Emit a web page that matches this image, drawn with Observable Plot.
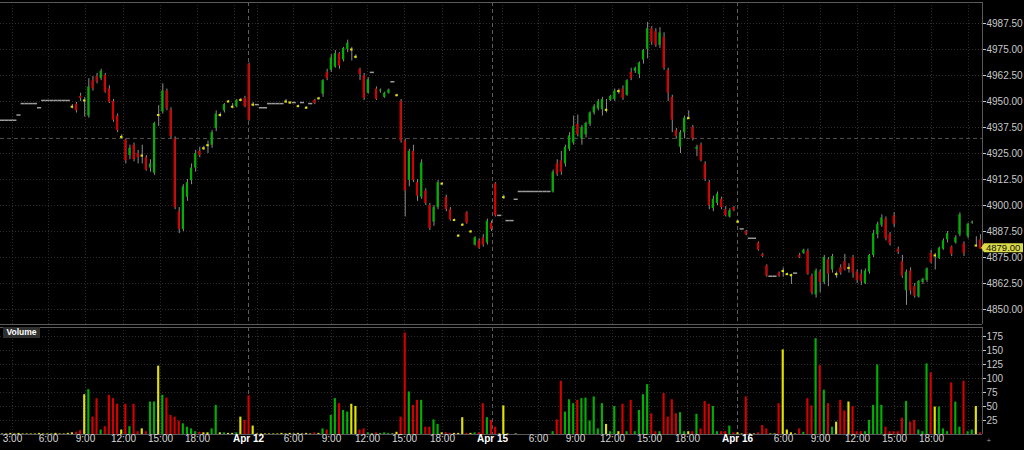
<!DOCTYPE html>
<html><head><meta charset="utf-8">
<script src="https://cdn.jsdelivr.net/npm/d3@7"></script>
<script src="https://cdn.jsdelivr.net/npm/@observablehq/plot@0.6"></script>
<style>
html,body{margin:0;padding:0;background:#000;}
#chart{position:relative;width:1024px;height:450px;overflow:hidden;background:#000;font-family:"Liberation Sans",Arial,sans-serif;}
#chart svg{display:block;}
#vol-label{position:absolute;left:3px;top:327px;width:37px;height:11px;background:#2f2f2f;color:#fff;font:bold 8.5px "Liberation Sans",Arial,sans-serif;line-height:11px;text-align:center;}
</style></head>
<body><div id="chart"></div>
<script>
// ---- data (20-minute-ish bar slots) ----
const opens = [
4941,4941,4941,4941,4943.5,4949,4949,4949,4949,4947,
4950.5,4950.5,4950.5,4950.5,4950.5,4950.5,4950.5,4947.5,4948.75,4952.5,
4950.5,4943,4960,4962,4961,4962.5,4956,4950,4943,4933,
4931.5,4924,4929,4925,4924,4923,4918,4915.5,4943.5,4945,
4955,4946,4932,4897,4888.5,4904,4912,4918,4926,4927.5,
4929,4929,4937,4943.5,4945.5,4950,4947.5,4947.5,4950.75,4951.5,
4968,4948.5,4948.5,4947,4947,4949,4949,4949,4949,4950,
4949.5,4949.5,4947.75,4949.5,4947,4949,4950.5,4951.5,4953.5,4964,
4965,4966.5,4973,4970,4975,4975,4971.5,4965.5,4962.5,4954,
4964,4956,4955,4952,4954,4959.5,4953,4950,4931,4912,
4926,4911,4904,4907,4900,4892,4899,4910.5,4904,4898,
4893,4885.5,4890.75,4896.5,4887.5,4881,4883,4884.5,4882,4891.5,
4910.5,4895.25,4904,4892.75,4892.75,4903,4906.75,4906.75,4906.75,4906.75,
4906.75,4906.75,4906.75,4906.75,4906.5,4920,4921.5,4920,4927,4930,
4939,4932,4934,4939,4944.5,4946.5,4946,4946,4950.5,4951,
4955,4956,4953,4964,4964.5,4963,4970,4975,4985,4983.5,
4977,4981,4965,4952,4936,4928,4935,4942,4937.5,4927,
4929,4920,4911,4898.5,4901,4903,4898,4894.5,4899,4892.25,
4888.75,4887.5,4884.25,4884.25,4882,4876.5,4871,4866,4866,4867.5,
4868.5,4867,4866.5,4867.5,4876,4877,4878,4866,4857,4868,
4863,4874,4869,4867,4870,4873,4870,4875,4868,4867,
4862.5,4868,4876,4886,4890.5,4893.5,4886,4895,4879,4873,
4859,4868.5,4861,4856,4863,4864,4877,4876,4874.5,4879,
4883.5,4880,4882,4886,4881.5,4885,4891.5,4880.75,4883.5];
const highs = [
4941,4941,4941,4941,4943.5,4949,4949,4949,4949,4947,
4950.5,4950.5,4950.5,4950.5,4950.5,4950.5,4950.5,4948.5,4949.5,4954,
4952,4961,4962,4963.5,4965.5,4963.5,4957.5,4951,4944,4934,
4932,4929,4930,4926.5,4929,4924,4922,4940,4948,4958.5,
4956,4947,4933,4899,4910,4912.5,4920,4926.5,4928,4928.5,
4931,4936,4945.5,4944.5,4949,4950.5,4949,4951,4951.5,4952.5,
4968.5,4949.5,4948.5,4947,4947,4949,4949,4949,4949,4951,
4950,4949.5,4948.25,4949.5,4947.5,4949,4951,4952,4960.5,4965.5,
4972.5,4974.5,4973.5,4976,4979.5,4976,4972.5,4966,4963.5,4961.5,
4964,4957,4956,4954.5,4956,4959.5,4953.5,4951,4932,4927,
4929,4912.5,4922,4908,4901,4900,4912,4911,4905,4899,
4893.5,4886,4891.25,4897,4888,4885,4884,4886,4893.5,4892.5,
4911,4895.25,4905,4892.75,4892.75,4903,4906.75,4906.75,4906.75,4906.75,
4906.75,4906.75,4906.75,4906.75,4917,4922,4926,4929,4935,4943,
4943.5,4938.5,4940,4945,4948.5,4951,4952,4951,4953,4956,
4956,4957.5,4960.5,4966,4966.5,4969,4975,4988,4986,4985,
4985.5,4983,4966,4953,4937,4936,4943,4945.5,4938.5,4929,
4930,4921,4912,4904.5,4906.5,4904,4899.5,4898.5,4899.5,4892.75,
4888.75,4888,4884.25,4884.25,4882.5,4877,4871.5,4866,4866,4868,
4870,4867.5,4867,4867.5,4877,4879,4879,4867,4869.5,4869,
4876,4875,4876.5,4868,4871.5,4876.5,4872,4876,4869,4869,
4869.5,4876.5,4888,4892,4895.5,4894.5,4887,4896.5,4880,4876,
4869,4870,4862.5,4864,4865,4870,4878.5,4877,4880,4884,
4887.5,4880.5,4885.5,4896.5,4882.5,4891.5,4892.5,4885,4886];
const lows = [
4941,4941,4941,4941,4943.5,4949,4949,4949,4949,4947,
4950.5,4950.5,4950.5,4950.5,4950.5,4950.5,4950.5,4946.5,4944.5,4950,
4942.5,4942,4955,4958.5,4960,4954,4949,4940,4935,4932,
4920,4922,4921,4920,4920,4916.5,4916,4914.5,4938,4944,
4945.5,4932,4898,4886.5,4887.5,4902,4910,4916,4923,4926.5,
4925,4927.5,4935.5,4942.5,4944.5,4949.5,4946.5,4947,4950,4947,
4940.5,4947.5,4948.5,4947,4947,4949,4949,4949,4949,4949,
4948.75,4949.5,4947.25,4949.5,4946.5,4949,4948.5,4951,4952,4960,
4964,4966,4965.5,4969,4973.5,4969.5,4970.5,4960,4950.5,4953.5,
4964,4950.5,4954,4951.5,4953.5,4959.5,4952.5,4930,4894.5,4909,
4911,4902,4903,4900,4888,4890,4898,4910,4897,4892.5,
4892.5,4885,4890.25,4891,4887,4880.5,4879,4880,4881,4887.5,
4894.5,4895.25,4903,4892.75,4892.75,4903,4906.75,4906.75,4906.75,4906.75,
4906.75,4906.75,4906.75,4906.75,4906,4914,4914.5,4918.5,4926,4929,
4933,4929,4932.5,4938,4943.5,4945.5,4943,4944.5,4950,4950,
4953.5,4950.5,4952.5,4960,4963.5,4961,4968,4970.5,4977,4976,
4975.5,4965,4950,4935,4932,4925,4932,4941.5,4931,4923.5,
4921,4911.5,4898,4897,4900,4898,4894.5,4894,4897,4891.25,
4888.75,4885.5,4884.25,4884.25,4878,4875,4865.5,4866,4866,4865.5,
4865.5,4866.5,4862,4867.5,4874.5,4876.5,4866.5,4857,4855.5,4858,
4862,4861,4867.5,4865,4866.5,4868.5,4867.5,4865,4862.5,4861.5,
4862,4867,4875,4884,4889.5,4883,4880.5,4889.5,4876.5,4865,
4852,4857,4855.5,4855.5,4862,4863,4872,4869,4874,4878.5,
4882,4875.5,4881.5,4885,4875.5,4884,4891,4880,4879];
const closes = [
4941,4941,4941,4941,4943.5,4949,4949,4949,4949,4947,
4950.5,4950.5,4950.5,4950.5,4950.5,4950.5,4950.5,4947.5,4945.5,4951.5,
4950.5,4957,4956,4959.5,4964.5,4954.5,4949.5,4941,4936,4933,
4921.5,4927.5,4922,4923,4924,4917,4920,4939.5,4943.5,4955,
4946.5,4933,4899,4888.5,4909,4911,4918,4925,4924,4927.5,
4929,4935,4944,4943.5,4948.5,4950,4947.5,4950.5,4950.75,4947.5,
4941,4948.5,4948.5,4947,4947,4949,4949,4949,4949,4950,
4949.5,4949.5,4947.75,4949.5,4947,4949,4949,4951.5,4960,4961,
4971,4973,4967,4975.5,4978,4975,4971.5,4963,4951.5,4960.5,
4964,4951,4955.5,4954,4955.5,4959.5,4953,4931,4907,4926,
4912,4904.5,4920.5,4901,4889,4899,4911,4910.5,4898,4893,
4893,4885.5,4890.75,4891.5,4887.5,4884.5,4879.5,4881,4892.5,4888.5,
4895,4895.25,4904,4892.75,4892.75,4903,4906.75,4906.75,4906.75,4906.75,
4906.75,4906.75,4906.75,4906.75,4916,4915,4916,4928,4933.5,4938,
4934,4937.5,4939.5,4944.5,4947.5,4950,4951,4946,4952.5,4955,
4955,4951.5,4960,4961,4966,4968.5,4974.5,4985,4978.5,4977,
4983,4966,4954,4941,4933,4935,4942,4942,4932,4928,
4921.5,4912.5,4900,4903,4905.5,4899,4895,4897.5,4897.5,4892.25,
4888.75,4886,4884.25,4884.25,4878.5,4875.5,4866,4866,4866,4866,
4868.5,4867,4866.5,4867.5,4875,4878.5,4867,4858,4868.5,4863,
4875,4867,4875.5,4867,4867.5,4869,4870,4867.5,4864,4863.5,
4868.5,4876,4886.5,4891,4894,4884,4881.5,4891,4877.5,4866,
4868,4859,4856.5,4863.5,4864.5,4869.5,4872.5,4876,4879.5,4883,
4886.5,4876.5,4884.5,4895.5,4877,4891,4892,4880.75,4879];
const volumes = [
1,1,2,1,2,1,1,1,1,2,
1,1,1,2,1,1,2,3,4,7,
71,80,31,64,8,14,70,64,54,8,
54,14,54,5,10,5,58,58,122,70,
65,34,31,24,19,13,10,5,4,3,
3,10,52,3,3,2,2,3,31,25,
69,15,1,1,1,1,1,1,2,1,
2,1,2,1,2,1,3,2,10,8,
34,64,55,43,40,54,50,8,10,3,
1,3,2,3,2,1,4,31,181,76,
52,61,61,13,13,26,18,3,3,2,
2,2,30,2,2,3,3,55,30,25,
13,1,51,1,0,1,0,0,0,0,
0,0,0,0,5,26,95,40,62,55,
61,64,65,24,67,10,55,18,5,50,
5,54,5,61,5,43,71,89,37,5,
5,73,31,62,37,39,5,5,5,36,
10,59,54,50,5,5,5,15,3,3,
1,67,1,1,3,16,10,1,1,55,
151,8,3,1,10,4,64,51,171,123,
79,55,13,22,61,42,58,50,5,5,
5,25,52,124,52,13,5,5,5,29,
59,22,25,8,5,126,110,49,49,10,
5,92,58,13,95,5,8,50,3];

// axis ticks (positions in bar-slot units)
const timeTickPos = [2.42,11.18,20.19,29.44,38.44,47.45,56.45,62.05,70.81,80.06,88.82,97.83,107.07,116.08,121.68,130.44,139.44,148.45,157.45,166.70,175.46,181.31,190.07,199.07,208.08,217.08,226.09,235.09];
const timeTickLabels = ["3:00","6:00","9:00","12:00","15:00","18:00","","","6:00","9:00","12:00","15:00","18:00","","","6:00","9:00","12:00","15:00","18:00","","","6:00","9:00","12:00","15:00","18:00",""];
const dayTickPos = [59.86,119.24,178.87];
const dayLabels = ["Apr 12","Apr 15","Apr 16"];
const priceTicks = [4850,4862.5,4875,4887.5,4900,4912.5,4925,4937.5,4950,4962.5,4975,4987.5];
const volTicks = [25,50,75,100,125,150,175];
const refPrice = [4932.25];
const lastPrice = 4879.00;
const priceDomain = [4842.8,4997.6];
const volDomain = [0,191];

// ---- build ----
const bars = opens.map((o,i)=>({i, open:o, high:highs[i], low:lows[i], close:closes[i], vol:volumes[i]}));
const kind = d => d.high === d.low ? "flat" : d.close > d.open ? "up" : d.close < d.open ? "down" : "doji";
const COLORS = {up:"#00b000", down:"#d20000", doji:"#e2e200", flat:"#e2e200"};
const col = d => COLORS[kind(d)];
const flats = bars.filter(d => kind(d) === "flat");
const ranged = bars.filter(d => kind(d) !== "flat");
const bodies = bars.filter(d => kind(d) === "up" || kind(d) === "down");
const dojis = bars.filter(d => kind(d) === "doji");
const xDomain = [-0.5, bars.length - 0.5];
const GRID = {stroke:"#2e2e2e", strokeDasharray:"1,2"};
const DAY = {stroke:"#5e5e5e", strokeDasharray:"4,3"};
const BORDER = {stroke:"#5a5a5a"};
const font = "'Liberation Sans', Arial, sans-serif";

const main = Plot.plot({
  width:1024, height:325,
  marginLeft:0, marginRight:42, marginTop:2, marginBottom:1,
  style:{background:"#000", color:"#c8c8c8", fontSize:"10px", fontFamily:font},
  color:{type:"identity"},
  x:{domain:xDomain, axis:null},
  y:{domain:priceDomain, axis:"right", ticks:priceTicks, tickFormat:".2f", tickSize:3, tickPadding:1, label:null},
  marks:[
    Plot.ruleY(priceTicks, GRID),
    Plot.ruleX(timeTickPos, GRID),
    Plot.ruleX(dayTickPos, DAY),
    Plot.ruleY(refPrice, {stroke:"#505050", strokeDasharray:"4,3"}),
    Plot.ruleY(flats, {x1:d=>d.i-0.5, x2:d=>d.i+0.5, y:"open", stroke:"#9c9c9c", strokeWidth:1.5}),
    Plot.ruleX(ranged, {x:"i", y1:"low", y2:"high", stroke:"#8c8c8c"}),
    Plot.rect(bodies, {x1:d=>d.i-0.26, x2:d=>d.i+0.26, y1:"open", y2:"close", fill:col}),
    Plot.ruleY(dojis, {x1:d=>d.i-0.3, x2:d=>d.i+0.3, y:"open", stroke:"#e2e200", strokeWidth:2}),
    Plot.ruleY([priceDomain[1]], BORDER),
    Plot.ruleY([priceDomain[0]], BORDER),
    Plot.ruleX([xDomain[1]], BORDER)
  ]
});

const volume = Plot.plot({
  width:1024, height:125,
  marginLeft:0, marginRight:42, marginTop:2, marginBottom:16,
  style:{background:"#000", color:"#c8c8c8", fontSize:"10px", fontFamily:font},
  color:{type:"identity"},
  x:{domain:xDomain, axis:null},
  y:{domain:volDomain, axis:"right", ticks:volTicks, tickSize:3, tickPadding:1, label:null},
  marks:[
    Plot.ruleY(volTicks, GRID),
    Plot.ruleX(timeTickPos, GRID),
    Plot.ruleX(dayTickPos, DAY),
    Plot.rect(bars.filter(d=>d.vol>0), {x1:d=>d.i-0.26, x2:d=>d.i+0.26, y1:0, y2:"vol", fill:col}),
    Plot.ruleY([volDomain[1]], BORDER),
    Plot.ruleY([volDomain[0]], BORDER),
    Plot.ruleX([xDomain[1]], BORDER),
    Plot.text(timeTickPos.map((p,k)=>({p, t:timeTickLabels[k]})).filter(d=>d.t), {x:"p", text:"t", frameAnchor:"bottom", dy:7, fill:"#d8d8d8", fontSize:10}),
    Plot.text(dayTickPos.map((p,k)=>({p, t:dayLabels[k]})), {x:"p", text:"t", frameAnchor:"bottom", dy:7, fill:"#ffffff", fontWeight:"bold", fontSize:10}),
    Plot.text(["+"], {x:()=>xDomain[1], frameAnchor:"bottom", dy:8, dx:4, text:d=>d, fill:"#999", fontSize:8, textAnchor:"start"})
  ]
});

const root = document.getElementById("chart");
root.appendChild(main);
root.appendChild(volume);

// last-price tag on the right axis
const yy = main.scale("y").apply(lastPrice) - 1;
const xr = main.scale("x").apply(xDomain[1]);
const tag = d3.select(main).append("g").attr("text-anchor", "start");
tag.append("path")
  .attr("d", `M${xr-1},${yy} L${xr+2},${yy-4.5} L${xr+41},${yy-4.5} L${xr+41},${yy+4.5} L${xr+2},${yy+4.5} Z`)
  .attr("fill", "#dada48");
tag.append("text").attr("x", xr+4).attr("y", yy).attr("dy", "0.34em").attr("text-anchor", "start")
  .attr("font-size", 9.5).attr("font-family", font).attr("fill", "#111").text(lastPrice.toFixed(2));

const lab = document.createElement("div");
lab.id = "vol-label";
lab.textContent = "Volume";
root.appendChild(lab);
</script>
</body></html>
